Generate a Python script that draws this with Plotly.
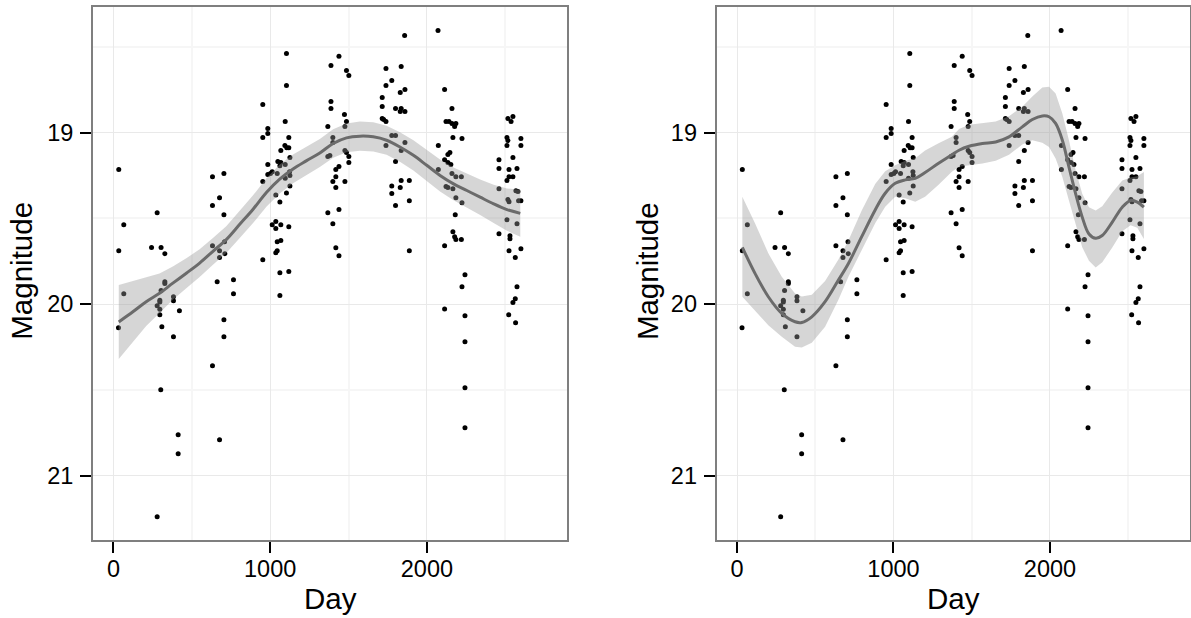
import plotly.graph_objects as go

# observations (same light curve in both panels)
obs_day = [
    34, 66, 34, 66, 279, 243, 304, 328, 328, 328, 304, 383,
    632, 705, 677, 632, 705, 632, 677, 709, 711, 677, 662, 766, 766,
    953, 985, 985, 953, 1104, 1104, 1096, 1119, 1094, 1106, 1119, 1068,
    1126, 1049, 1068, 1096, 985, 1062, 1013, 985, 1002, 1045, 1124, 1126,
    1096, 953, 1126, 1036, 1104, 1062, 1036, 1013, 1068, 1036, 1119, 1068,
    1045, 1036, 1045, 953, 1062, 1119, 1062,
    1439, 1388, 1487, 1502, 1388, 1388, 1474, 1368, 1487, 1477, 1400, 1400,
    1477, 1487, 1368, 1381, 1502, 1502, 1439, 1419, 1419, 1400, 1477, 1419,
    1439, 1368, 1400, 1419, 1439,
    1858, 1739, 1836, 1776, 1739, 1860, 1830, 1715, 1715, 1800, 1836, 1830,
    1860, 1715, 1739, 1724, 1776, 1800, 1739, 1860, 1836, 1800, 1776, 1836,
    1888, 1830, 1776, 1888, 1800, 1888,
    2071, 2113, 2160, 2122, 2141, 2160, 2185, 2177, 2166, 2224, 2073, 2147,
    2134, 2113, 2134, 2153, 2073, 2160, 2185, 2220, 2122, 2134, 2166, 2185,
    2224, 2181, 2166, 2177, 2185, 2220, 2113, 2243, 2224,
    2517, 2549, 2537, 2511, 2517, 2600, 2511, 2600, 2549, 2460, 2460, 2524,
    2575, 2524, 2549, 2511, 2460, 2568, 2581, 2517, 2524, 2585, 2600, 2511,
    2575, 2460, 2530, 2530, 2600, 2524, 2564, 2575, 2564,
    32, 279, 296, 296, 296, 296, 421, 309, 383, 383, 705, 705, 632, 302,
    413, 413, 677, 279, 2113, 2243, 2243, 2243, 2243, 2522, 2566, 2549,
]
obs_mag = [
    19.216, 19.537, 19.689, 19.94, 19.467, 19.67, 19.67, 19.706, 19.87, 19.88, 19.92, 19.957,
    19.257, 19.239, 19.38, 19.426, 19.479, 19.66, 19.689, 19.636, 19.706, 19.729, 19.87, 19.858, 19.94,
    18.837, 18.977, 19.006, 19.029, 18.539, 18.726, 18.936, 19.029, 19.076, 19.088, 19.088, 19.105,
    19.146, 19.169, 19.175, 19.187, 19.187, 19.193, 19.228, 19.245, 19.239, 19.239, 19.228, 19.251,
    19.267, 19.286, 19.311, 19.364, 19.352, 19.405, 19.519, 19.537, 19.537, 19.56, 19.549, 19.63,
    19.636, 19.7, 19.689, 19.741, 19.817, 19.81, 19.95,
    18.556, 18.609, 18.638, 18.667, 18.819, 18.86, 18.895, 18.965, 18.936, 18.965, 19.029, 19.058,
    19.105, 19.117, 19.14, 19.134, 19.14, 19.175, 19.198, 19.216, 19.257, 19.286, 19.286, 19.321,
    19.449, 19.467, 19.531, 19.671, 19.718,
    18.434, 18.627, 18.615, 18.697, 18.726, 18.749, 18.767, 18.796, 18.848, 18.86, 18.86, 18.877,
    18.877, 18.918, 18.936, 18.924, 19.018, 19.018, 19.076, 19.058, 19.105, 19.169, 19.311, 19.28,
    19.28, 19.321, 19.356, 19.397, 19.426, 19.689,
    18.405, 18.749, 18.86, 18.936, 18.936, 18.947, 18.947, 18.965, 19.029, 19.035, 19.076, 19.117,
    19.128, 19.158, 19.175, 19.187, 19.216, 19.239, 19.257, 19.257, 19.315, 19.321, 19.327, 19.38,
    19.409, 19.479, 19.578, 19.607, 19.624, 19.624, 19.66, 19.829, 19.899,
    18.918, 18.907, 18.936, 19.029, 19.047, 19.035, 19.076, 19.076, 19.146, 19.158, 19.21, 19.216,
    19.21, 19.257, 19.257, 19.28, 19.327, 19.339, 19.344, 19.391, 19.403, 19.397, 19.397, 19.508,
    19.531, 19.59, 19.601, 19.619, 19.677, 19.689, 19.729, 19.899, 19.969,
    20.138, 20.01, 19.977, 19.988, 20.03, 20.062, 20.039, 20.132, 20.19, 19.98, 20.091, 20.19, 20.359, 20.499,
    20.761, 20.872, 20.79, 21.239, 20.029, 20.068, 20.219, 20.487, 20.72, 20.062, 20.109, 19.99,
]

# left panel: wide loess smoother with band
left_day = [34, 124, 209, 294, 379, 465, 550, 635, 720, 806, 891, 976, 1061, 1146, 1230,
            1317, 1402, 1487, 1573, 1658, 1743, 1828, 1914, 1999, 2084, 2170, 2255, 2340,
            2426, 2511, 2596]
left_fit = [20.104, 20.045, 19.986, 19.937, 19.878, 19.82, 19.761, 19.692, 19.624, 19.535,
            19.447, 19.349, 19.271, 19.212, 19.165, 19.119, 19.064, 19.031, 19.021, 19.025,
            19.045, 19.084, 19.133, 19.191, 19.25, 19.299, 19.338, 19.377, 19.416, 19.449, 19.471]
left_lo = [19.888, 19.867, 19.844, 19.822, 19.781, 19.733, 19.680, 19.614, 19.546, 19.456,
           19.366, 19.266, 19.187, 19.128, 19.082, 19.037, 18.981, 18.947, 18.936, 18.940,
           18.960, 18.998, 19.045, 19.100, 19.157, 19.204, 19.240, 19.274, 19.305, 19.326, 19.334]
left_hi = [20.320, 20.223, 20.128, 20.052, 19.975, 19.907, 19.842, 19.770, 19.702, 19.614,
           19.528, 19.432, 19.355, 19.296, 19.248, 19.201, 19.147, 19.115, 19.106, 19.110,
           19.130, 19.170, 19.221, 19.282, 19.343, 19.394, 19.436, 19.480, 19.527, 19.572, 19.608]

# right panel: wiggly smoother with band
right_day = [34, 115, 200, 286, 371, 414, 478, 563, 648, 712, 797, 883, 947, 1011, 1075,
             1139, 1202, 1288, 1373, 1419, 1483, 1568, 1653, 1738, 1823, 1887, 1951, 1994,
             2036, 2079, 2121, 2164, 2206, 2249, 2292, 2334, 2398, 2462, 2515, 2558, 2600]
right_fit = [19.669, 19.821, 19.957, 20.054, 20.103, 20.107, 20.074, 19.986, 19.86, 19.763,
             19.607, 19.451, 19.354, 19.296, 19.276, 19.267, 19.233, 19.179, 19.13, 19.103,
             19.08, 19.064, 19.055, 19.025, 18.967, 18.924, 18.903, 18.908, 18.947, 19.045,
             19.2, 19.357, 19.493, 19.591, 19.616, 19.6, 19.522, 19.435, 19.396, 19.405, 19.435]
right_lo = [19.374, 19.529, 19.704, 19.84, 19.938, 19.955, 19.945, 19.865, 19.74, 19.63,
            19.455, 19.30, 19.225, 19.19, 19.165, 19.15, 19.105, 19.062, 19.024, 18.98,
            18.955, 18.945, 18.935, 18.905, 18.85, 18.79, 18.737, 18.733, 18.772, 18.889,
            19.045, 19.22, 19.357, 19.435, 19.454, 19.43, 19.35, 19.28, 19.262, 19.255, 19.23]
right_hi = [19.957, 20.035, 20.123, 20.191, 20.249, 20.253, 20.225, 20.132, 19.975, 19.84,
            19.685, 19.529, 19.432, 19.374, 19.383, 19.403, 19.374, 19.305, 19.228, 19.2,
            19.19, 19.18, 19.165, 19.13, 19.07, 19.045, 19.06, 19.084, 19.152, 19.259,
            19.396, 19.532, 19.669, 19.747, 19.786, 19.756, 19.67, 19.575, 19.54, 19.555, 19.62]

x_ticks = [0, 1000, 2000]
y_ticks = [19, 20, 21]

FONT = "Liberation Sans, Arial, sans-serif"

fig = go.Figure()

panels = [
    ("x", "y", left_day, left_fit, left_lo, left_hi),
    ("x2", "y2", right_day, right_fit, right_lo, right_hi),
]
for xa, ya, d, fit, lo, hi in panels:
    fig.add_trace(go.Scatter(x=obs_day, y=obs_mag, mode="markers", xaxis=xa, yaxis=ya,
                             marker=dict(size=5, color="black"), hoverinfo="skip"))
    fig.add_trace(go.Scatter(x=d + d[::-1], y=hi + lo[::-1], mode="lines", fill="toself",
                             fillcolor="rgba(153,153,153,0.4)", line=dict(width=0),
                             xaxis=xa, yaxis=ya, hoverinfo="skip"))
    fig.add_trace(go.Scatter(x=d, y=fit, mode="lines", line_shape="spline",
                             xaxis=xa, yaxis=ya,
                             line=dict(color="#6b6b6b", width=3), hoverinfo="skip"))

common_x = dict(range=[-131, 2895], tickvals=x_ticks, ticks="outside", ticklen=11,
                tickwidth=2, tickcolor="black", showline=True, mirror=True,
                linecolor="#7f7f7f", linewidth=1.6, showgrid=True, gridcolor="#e9e9e9",
                gridwidth=1.2, zeroline=False, ticklabelstandoff=-4,
                tickfont=dict(family=FONT, size=23.5, color="black"),
                minor=dict(tickvals=[500, 1500, 2500], showgrid=True,
                           gridcolor="#f6f6f6", gridwidth=2, ticks=""))
common_y = dict(range=[21.375, 18.27], tickvals=y_ticks, ticks="outside", ticklen=11,
                tickwidth=2, tickcolor="black", showline=True, mirror=True,
                linecolor="#7f7f7f", linewidth=1.6, showgrid=True, gridcolor="#e9e9e9",
                gridwidth=1.2, zeroline=False, ticklabelstandoff=2,
                tickfont=dict(family=FONT, size=23.5, color="black"),
                minor=dict(tickvals=[18.5, 19.5, 20.5, 21.5], showgrid=True,
                           gridcolor="#f6f6f6", gridwidth=2, ticks=""))

fig.update_layout(
    width=1191, height=618,
    margin=dict(l=0, r=0, t=0, b=0),
    paper_bgcolor="white", plot_bgcolor="white",
    showlegend=False,
    xaxis=dict(domain=[0.0780, 0.4762], anchor="y", **common_x),
    yaxis=dict(domain=[0.1262, 0.9882], anchor="x", **common_y),
    xaxis2=dict(domain=[0.6016, 0.9992], anchor="y2", **common_x),
    yaxis2=dict(domain=[0.1262, 0.9882], anchor="x2", **common_y),
)

title_font = dict(family=FONT, size=29.5, color="black")
for xc in [0.2771, 0.8006]:
    fig.add_annotation(text="Day", x=xc, y=0.031, xref="paper", yref="paper",
                       xanchor="center", yanchor="middle", showarrow=False, font=title_font)
for xc in [0.0185, 0.5436]:
    fig.add_annotation(text="Magnitude", x=xc, y=0.562, xref="paper", yref="paper",
                       xanchor="center", yanchor="middle", textangle=-90,
                       showarrow=False, font=title_font)

# drop the default page margin so the figure sits at the window's corner
fig.write_html("out.html", config={"displayModeBar": False},
               post_script="document.body.style.margin='0';"
                           "document.body.style.overflow='hidden';")
